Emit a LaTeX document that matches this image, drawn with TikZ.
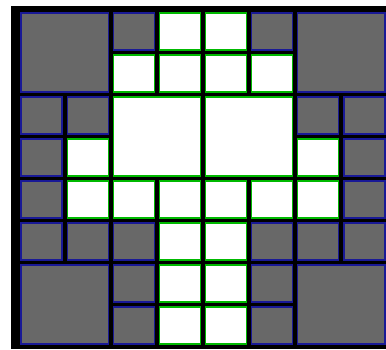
\documentclass[tikz,border=0pt]{standalone}
\definecolor{cellgray}{RGB}{104,104,104}
\definecolor{cellblue}{RGB}{25,25,150}
\definecolor{cellgreen}{RGB}{0,185,0}
\tikzset{
  gcell/.style={draw=cellblue, fill=cellgray, line width=1.1pt, inner sep=0pt, outer sep=0pt, rectangle},
  wcell/.style={draw=cellgreen, fill=white, line width=1.1pt, inner sep=0pt, outer sep=0pt, rectangle}
}
\newcommand\cellbox[6]{%
  \pgfmathsetmacro\cx{21+46.14*#3}%
  \pgfmathsetmacro\cy{13+42*#4}%
  \pgfmathsetmacro\cw{41+46.14*(#5-1)}%
  \pgfmathsetmacro\ch{37+42*(#6-1)}%
  \node[#2, anchor=north west, minimum width=\cw pt, minimum height=\ch pt] (#1) at (\cx,\cy) {};}
\begin{document}
\begin{tikzpicture}[x=1pt,y=-1pt]
\fill[white] (0,0) rectangle (386,349);
\useasboundingbox (0,0) rectangle (386,349);
\fill[black] (11,6) rectangle (386,349);
% gray cells
\cellbox{gA}{gcell}{0}{0}{2}{2}
\cellbox{gB}{gcell}{2}{0}{1}{1}
\cellbox{gC}{gcell}{5}{0}{1}{1}
\cellbox{gD}{gcell}{6}{0}{2}{2}
\cellbox{gE}{gcell}{0}{2}{1}{1}
\cellbox{gF}{gcell}{1}{2}{1}{1}
\cellbox{gG}{gcell}{6}{2}{1}{1}
\cellbox{gH}{gcell}{7}{2}{1}{1}
\cellbox{gI}{gcell}{0}{3}{1}{1}
\cellbox{gJ}{gcell}{7}{3}{1}{1}
\cellbox{gK}{gcell}{0}{4}{1}{1}
\cellbox{gL}{gcell}{7}{4}{1}{1}
\cellbox{gM}{gcell}{0}{5}{1}{1}
\cellbox{gN}{gcell}{1}{5}{1}{1}
\cellbox{gO}{gcell}{2}{5}{1}{1}
\cellbox{gP}{gcell}{5}{5}{1}{1}
\cellbox{gQ}{gcell}{6}{5}{1}{1}
\cellbox{gR}{gcell}{7}{5}{1}{1}
\cellbox{gS}{gcell}{0}{6}{2}{2}
\cellbox{gT}{gcell}{2}{6}{1}{1}
\cellbox{gU}{gcell}{5}{6}{1}{1}
\cellbox{gV}{gcell}{6}{6}{2}{2}
\cellbox{gW}{gcell}{2}{7}{1}{1}
\cellbox{gX}{gcell}{5}{7}{1}{1}
% white cells
\cellbox{wA}{wcell}{3}{0}{1}{1}
\cellbox{wB}{wcell}{4}{0}{1}{1}
\cellbox{wC}{wcell}{2}{1}{1}{1}
\cellbox{wD}{wcell}{3}{1}{1}{1}
\cellbox{wE}{wcell}{4}{1}{1}{1}
\cellbox{wF}{wcell}{5}{1}{1}{1}
\cellbox{wG}{wcell}{2}{2}{2}{2}
\cellbox{wH}{wcell}{4}{2}{2}{2}
\cellbox{wI}{wcell}{1}{3}{1}{1}
\cellbox{wJ}{wcell}{6}{3}{1}{1}
\cellbox{wK}{wcell}{1}{4}{1}{1}
\cellbox{wL}{wcell}{2}{4}{1}{1}
\cellbox{wM}{wcell}{3}{4}{1}{1}
\cellbox{wN}{wcell}{4}{4}{1}{1}
\cellbox{wO}{wcell}{5}{4}{1}{1}
\cellbox{wP}{wcell}{6}{4}{1}{1}
\cellbox{wQ}{wcell}{3}{5}{1}{1}
\cellbox{wR}{wcell}{4}{5}{1}{1}
\cellbox{wS}{wcell}{3}{6}{1}{1}
\cellbox{wT}{wcell}{4}{6}{1}{1}
\cellbox{wU}{wcell}{3}{7}{1}{1}
\cellbox{wV}{wcell}{4}{7}{1}{1}
\end{tikzpicture}
\end{document}
